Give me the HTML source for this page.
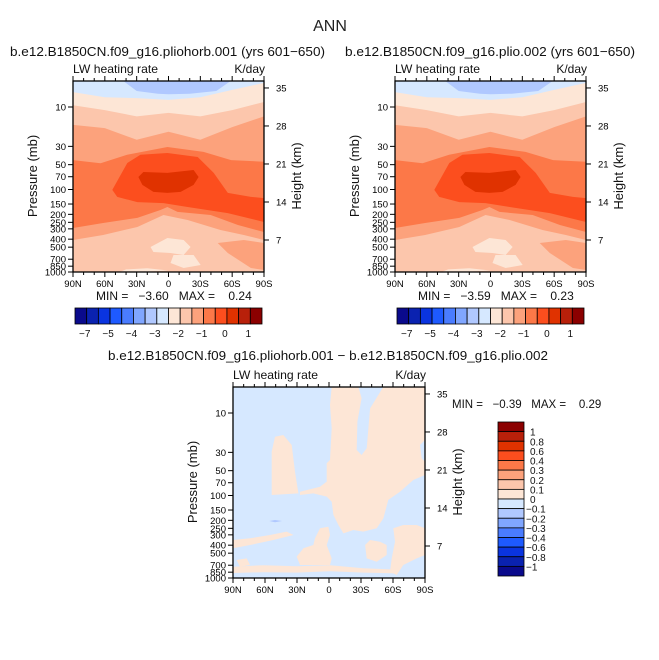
<!DOCTYPE html>
<html><head><meta charset="utf-8"><style>
html,body{margin:0;padding:0;background:#fff;}
svg{display:block;font-family:"Liberation Sans",sans-serif;}
.pre{white-space:pre;}
</style></head><body>
<svg id="fig" width="659" height="660" viewBox="0 0 659 660" xmlns="http://www.w3.org/2000/svg">
<rect width="659" height="660" fill="#fff"/>
<text x="330" y="31" font-size="16" text-anchor="middle" fill="#222">ANN</text>
<g id="root"></g>
</svg>
<script>
// ---- data ----
const colors = ['#0a0a8c','#0a22b0','#0a34e0','#1e5aff','#4a7cff','#80a6ff','#b0c8ff','#d6e8ff','#fde6d6','#fcc6ac','#fca27c','#fc7848','#fc4e1e','#e03200','#b8200a','#8b0000'];
const pressureTicks = [10,30,50,70,100,150,200,250,300,400,500,700,850,1000];
const heightTicks = [7,14,21,28,35];
const latTicks = [90,60,30,0,-30,-60,-90];
const latTickLabels = ['90N','60N','30N','0','30S','60S','90S'];
const topBarLabels = ['−7','−5','−4','−3','−2','−1','0','1'];
const topBarLabelIdx = [1,3,5,7,9,11,13,15];
const diffBarLabels = ['1','0.8','0.6','0.4','0.3','0.2','0.1','0','−0.1','−0.2','−0.3','−0.4','−0.6','−0.8','−1'];

// top panel contour bands (lat, pressure mb)
const blueCap = [[43,4.8],[30,6.4],[10,6.9],[0,7.0],[-20,6.9],[-45,6.4],[-59,4.8]];
const curveB = [[90,6.6],[60,7.6],[30,7.8],[0,8.2],[-30,7.6],[-60,6.2],[-90,5.1]];
const curveC = [[90,9.5],[60,10.9],[30,13],[0,11.8],[-30,13],[-60,10.9],[-90,8.7]];
const curveD = [[90,16.5],[60,18],[30,25],[0,20],[-30,25],[-60,17.5],[-90,13]];
const curveE = [[90,44],[64,48],[39,38],[1,30.5],[-33,35],[-59,44],[-90,46]];
const blobRed = [[53,101],[38.8,47.7],[26.5,38],[1,36.1],[-27.5,40.4],[-42.6,63],[-55.9,110],[-77.7,123],[-90,127],[-90,248],[-55.9,193],[-18,163],[4.7,146],[29.4,142],[48.3,123]];
const core = [[28.4,70.5],[23.7,61.3],[1,63],[-23.7,58],[-28.4,70.5],[-23.7,88],[-11.4,107],[1,110],[14.2,107],[24.6,88]];
const curveF = [[90,293],[61.6,255],[29.4,221],[7.6,177],[1,163],[-8.5,187],[-39.8,204],[-65.4,269],[-90,327]];
const curveG = [[90,409],[61.6,356],[29.4,285],[4.7,204],[-18,234],[-49,310],[-71,356],[-90,409]];
const peach1 = [[17,498],[1,387],[-14.2,409],[-20.8,498],[-14.2,622],[-1.9,589],[14.2,573]];
const peach2 = [[-4.7,622],[-23.7,622],[-30.3,822],[-14.2,895],[-1.9,778]];
const peach3 = [[40,930],[20,900],[0,960],[20,990],[45,985]];
const salmonPatch = [[-46.4,445],[-71,409],[-90,445],[-90,946],[-77.7,895],[-55.9,589]];

// difference panel peach regions (lat, pressure mb)
const diffMain = [[-2.5,4.8],[-27.5,4.8],[-30.6,6.6],[-26.6,12.7],[-26,28.1],[-30.6,32.3],[-35.3,26.8],[-38.5,8.8],[-51,4.8],[-90,4.8],[-90,21.2],[-85.3,24.4],[-86.9,35.4],[-90,38.9],[-90,56.5],[-79,64.9],[-66.6,89.9],[-55.6,113],[-51,189],[-44.7,250],[-32.2,274],[-22.8,262],[-13.5,288],[-8.8,228],[-4.1,172],[-2.5,119],[2.2,103],[14.7,94.2],[27.2,98.6],[27.2,89.9],[8.4,78.2],[2.2,67.9],[2.2,40.7],[-0.9,37.1],[-2.5,15.3],[-0.9,8.0]];
const diffFinger = [[53.7,98.6],[53.7,29.4],[50.6,19.4],[42.8,18.5],[35,24.4],[31.9,51.4],[28.7,94.2]];
const diffLeftStrip = [[90,346],[74,330],[55.3,301],[39.7,274],[33.4,301],[52.2,346],[74,398],[90,437]];
const diffBump = [[30.3,551],[24,437],[14.7,398],[13.1,330],[8.4,250],[0.6,239],[-0.9,301],[2.2,398],[-2.5,578],[-0.9,695],[11.5,695],[27.2,695]];
const diffRightSmall = [[-33.8,398],[-38.5,346],[-47.8,363],[-54.1,398],[-54.1,526],[-44.7,634],[-35.3,578]];
const diffRightBig = [[-60.3,250],[-69.7,228],[-82.2,228],[-90,250],[-90,526],[-82.2,578],[-69.7,695],[-63.5,920],[-57.2,838],[-58.8,578],[-61.9,363]];
const diffBottomStrip = [[90,730],[61.6,700],[30.3,720],[-0.9,700],[-32.2,760],[-63.5,790],[-63.5,880],[-32.2,860],[-0.9,830],[30.3,860],[61.6,850],[90,870]];
const diffSmallLeft = [[86.6,605],[77.2,578],[74,695],[83.4,729]];
const diffBluePatch = [[56,204],[50.6,198],[44,204],[50.6,211]];

const NS='http://www.w3.org/2000/svg';
const root=document.getElementById('root');
function el(tag,attrs,parent){const e=document.createElementNS(NS,tag);for(const k in attrs)e.setAttribute(k,attrs[k]);(parent||root).appendChild(e);return e;}

function makePanel(ox,oy,w,id){
  const h=191;
  const xOf=lat=>ox+(90-lat)/180*w;
  const yOf=p=>oy+h-(3-Math.log10(p))*82.5;
  const zOf=z=>oy+159-(z-7)*5.43;
  const g=el('g',{});
  
  
  const cp=el('clipPath',{id:id+'-clip'},g);
  el('rect',{x:ox,y:oy,width:w,height:h},cp);
  const plot=el('g',{'clip-path':'url(#'+id+'-clip)'},g);
  
  
  return {g,plot,xOf,yOf,zOf,ox,oy,w,h};
}
function poly(P,pts,color,name){
  const d=pts.map(q=>P.xOf(q[0]).toFixed(1)+','+P.yOf(q[1]).toFixed(1)).join(' ');
  const e=el('polygon',{points:d,fill:color},P.plot);
  
  
}
function below(P,pts,color,name){
  poly(P,pts.concat([[-90,1000],[90,1000]]),color,name);
}
function axes(P,id){
  const g=P.g,{ox,oy,w,h}=P;
  const fr=el('rect',{x:ox,y:oy,width:w,height:h,fill:'none',stroke:'#000','stroke-width':1.3},g);
  
  pressureTicks.forEach(p=>{
    const y=P.yOf(p);
    el('line',{x1:ox-5,x2:ox,y1:y,y2:y,stroke:'#000','stroke-width':1},g);
    const t=el('text',{x:ox-7,y:y+3.5,'font-size':9.5,'text-anchor':'end',fill:'#000'},g);
    t.textContent=p;
    
  });
  heightTicks.forEach(z=>{
    const y=P.zOf(z);
    el('line',{x1:ox+w,x2:ox+w+5,y1:y,y2:y,stroke:'#000','stroke-width':1},g);
    const t=el('text',{x:ox+w+12,y:y+3.5,'font-size':9.5,fill:'#000'},g);
    t.textContent=z;
    
  });
  for(let lat=90;lat>=-90;lat-=10){
    const x=P.xOf(lat);const major=lat%30===0;
    el('line',{x1:x,x2:x,y1:oy+h,y2:oy+h+(major?5:3),stroke:'#000','stroke-width':1},g);
    el('line',{x1:x,x2:x,y1:oy,y2:oy-(major?5:3),stroke:'#000','stroke-width':1},g);
  }
  latTicks.forEach((lat,i)=>{
    const t=el('text',{x:P.xOf(lat),y:oy+h+15,'font-size':9.5,'text-anchor':'middle',fill:'#000'},g);
    t.textContent=latTickLabels[i];
    
  });
  const a=el('text',{x:ox,y:oy-8,'font-size':12,fill:'#111',textLength:85,lengthAdjust:'spacingAndGlyphs'},g);a.textContent='LW heating rate';
  
  const b=el('text',{x:ox+w+1,y:oy-8,'font-size':12,'text-anchor':'end',fill:'#111'},g);b.textContent='K/day';
  
  const yl=el('text',{x:0,y:0,'font-size':13,'text-anchor':'middle',fill:'#111',transform:'translate('+(ox-36)+','+(oy+95)+') rotate(-90)'},g);yl.textContent='Pressure (mb)';
  
  const zl=el('text',{x:0,y:0,'font-size':13,'text-anchor':'middle',fill:'#111',transform:'translate('+(ox+w+37)+','+(oy+95)+') rotate(-90)'},g);zl.textContent='Height (km)';
  
}
function topPanel(ox,id,title,titleX,titleW,minmax){
  const P=makePanel(ox,81,191,id);
  el('rect',{x:ox,y:81,width:191,height:191,fill:colors[7]},P.plot);
  poly(P,blueCap,colors[6],'blue-cap');
  below(P,curveB,colors[8],'band-peach');
  below(P,curveC,colors[9],'band-light-salmon');
  below(P,curveD,colors[10],'band-salmon');
  below(P,curveE,colors[11],'band-orange');
  poly(P,blobRed,colors[12],'band-red-orange');
  poly(P,core,colors[13],'band-core');
  below(P,curveF,colors[10],'band-salmon-low');
  below(P,curveG,colors[9],'band-light-salmon-low');
  poly(P,peach1,colors[8],'peach-blob');
  poly(P,peach2,colors[8],'peach-blob');
  poly(P,peach3,colors[8],'peach-blob');
  poly(P,salmonPatch,colors[10],'salmon-patch');
  axes(P,id);
  const t=el('text',{x:titleX,y:56,'font-size':13,fill:'#111',textLength:titleW,lengthAdjust:'spacingAndGlyphs'});
  t.textContent=title;
  const m=el('text',{x:ox+23,y:300,'font-size':12,fill:'#111','class':'pre'});
  m.textContent='MIN =   '+minmax[0]+'   MAX =    '+minmax[1];
  // colorbar
  const bx=ox+2,bw=187,by=308,bh=16,cw=bw/16;
  const cb=el('g',{});
  colors.forEach((c,i)=>{el('rect',{x:bx+i*cw,y:by,width:cw,height:bh,fill:c,stroke:'#000','stroke-width':0.8},cb);});
  topBarLabels.forEach((s,i)=>{
    const lt=el('text',{x:bx+topBarLabelIdx[i]*cw-2,y:337,'font-size':10,'text-anchor':'middle',fill:'#111'},cb);
    lt.textContent=s;
  });
}
topPanel(73,'left','b.e12.B1850CN.f09_g16.pliohorb.001 (yrs 601−650)',10,315,['−3.60','0.24']);
topPanel(395,'right','b.e12.B1850CN.f09_g16.plio.002 (yrs 601−650)',345,290,['−3.59','0.23']);

// difference panel
(function(){
  const P=makePanel(233,387,192,'diff');
  el('rect',{x:233,y:387,width:192,height:191,fill:colors[7]},P.plot);
  poly(P,diffMain,colors[8],'diff-positive-region');
  poly(P,diffFinger,colors[8],'diff-positive-region');
  poly(P,diffLeftStrip,colors[8],'diff-positive-region');
  poly(P,diffBump,colors[8],'diff-positive-region');
  poly(P,diffRightSmall,colors[8],'diff-positive-region');
  poly(P,diffRightBig,colors[8],'diff-positive-region');
  poly(P,diffBottomStrip,colors[8],'diff-positive-region');
  poly(P,diffSmallLeft,colors[8],'diff-positive-region');
  poly(P,diffBluePatch,colors[6],'diff-negative-patch');
  axes(P,'diff');
  const t=el('text',{x:108,y:360,'font-size':13,fill:'#111',textLength:440,lengthAdjust:'spacingAndGlyphs'});
  t.textContent='b.e12.B1850CN.f09_g16.pliohorb.001 − b.e12.B1850CN.f09_g16.plio.002';
  
  const m=el('text',{x:452,y:408,'font-size':11.5,fill:'#111','class':'pre'});
  m.textContent='MIN =   −0.39   MAX =    0.29';
  const cb=el('g',{});
  const bx=498,bw=26,by=422,bh=154/16;
  colors.slice().reverse().forEach((c,i)=>{el('rect',{x:bx,y:by+i*bh,width:bw,height:bh,fill:c,stroke:'#000','stroke-width':0.8},cb);});
  diffBarLabels.forEach((s,i)=>{
    const lt=el('text',{x:s.startsWith('−')?526:530,y:by+(i+1)*bh+4,'font-size':10,fill:'#111'},cb);
    lt.textContent=s;
  });
})();
</script>
</body></html>
